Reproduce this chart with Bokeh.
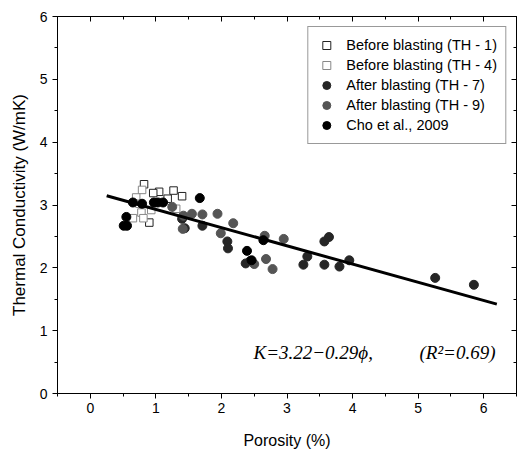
from bokeh.plotting import figure
from bokeh.models import (LinearAxis, Legend, LegendItem, Label, FixedTicker, Range1d,
                          CustomLabelingPolicy)
from bokeh.embed import file_html
from bokeh.resources import INLINE

# ---- data ----
th1_x = [1.05, 1.27, 1.40, 0.96, 0.82, 1.18, 0.90]
th1_y = [3.21, 3.23, 3.14, 3.19, 3.33, 3.10, 2.72]
th4_x = [0.79, 0.70, 1.31, 0.93, 0.78, 0.65, 0.81, 0.75]
th4_y = [3.24, 3.12, 2.94, 2.92, 2.88, 2.79, 2.79, 3.02]
th7_x = [1.40, 1.44, 1.71, 2.09, 2.10, 2.37, 2.44, 3.25, 3.31, 3.57, 3.57, 3.64, 3.80, 3.95, 5.26, 5.85]
th7_y = [2.78, 2.63, 2.67, 2.42, 2.31, 2.07, 2.11, 2.05, 2.18, 2.05, 2.42, 2.49, 2.02, 2.12, 1.84, 1.73]
th9_x = [1.25, 1.42, 1.41, 1.55, 1.71, 1.94, 1.99, 2.18, 2.50, 2.66, 2.68, 2.78, 2.95]
th9_y = [2.97, 2.83, 2.62, 2.86, 2.85, 2.86, 2.55, 2.71, 2.06, 2.51, 2.14, 1.98, 2.46]
cho_x = [0.51, 0.56, 0.55, 0.65, 0.79, 0.97, 1.03, 1.11, 1.67, 2.64, 2.39, 2.46]
cho_y = [2.67, 2.67, 2.81, 3.04, 3.02, 3.04, 3.04, 3.04, 3.11, 2.44, 2.27, 2.12]
fit_intercept = 3.22
fit_slope = -0.29
fit_x = [0.25, 6.2]
fit_y = [fit_intercept + fit_slope * v for v in fit_x]
x_ticks = [0, 1, 2, 3, 4, 5, 6]
y_ticks = [0, 1, 2, 3, 4, 5, 6]

p = figure(width=527, height=451, output_backend="svg", toolbar_location=None,
           x_range=Range1d(-0.5, 6.5), y_range=Range1d(0, 6),
           min_border_left=57, min_border_right=6, min_border_top=16, min_border_bottom=58)
p.xgrid.visible = False
p.ygrid.visible = False
p.outline_line_color = "black"
p.outline_line_width = 1
p.background_fill_color = "white"

def style_axis(ax, ticks):
    ax.ticker = FixedTicker(ticks=ticks, minor_ticks=[t + 0.5 for t in [-1] + ticks])
    ax.axis_line_color = "black"
    ax.major_tick_line_color = "black"
    ax.minor_tick_line_color = "black"
    ax.major_tick_out = 5
    ax.major_tick_in = 0
    ax.minor_tick_out = 3
    ax.minor_tick_in = 0
    ax.major_label_text_font = "Liberation Sans"
    ax.major_label_text_font_size = "14px"
    ax.major_label_text_color = "black"
    ax.axis_label_text_font = "Liberation Sans"
    ax.axis_label_text_font_style = "normal"
    ax.axis_label_text_color = "black"

style_axis(p.xaxis[0], x_ticks)
style_axis(p.yaxis[0], y_ticks)
p.xaxis[0].axis_label = "Porosity (%)"
p.xaxis[0].axis_label_text_font_size = "16px"
p.xaxis[0].major_label_standoff = 4
p.xaxis[0].axis_label_standoff = 16
p.yaxis[0].axis_label = "Thermal Conductivity (W/mK)"
p.yaxis[0].axis_label_text_font_size = "17px"
p.yaxis[0].major_label_standoff = 5
p.yaxis[0].axis_label_standoff = 8

no_labels = CustomLabelingPolicy(code="return new Set()")
top = LinearAxis(major_label_policy=no_labels)
style_axis(top, x_ticks)
top.major_tick_out = 0; top.major_tick_in = 5; top.minor_tick_out = 0; top.minor_tick_in = 3
top.major_label_standoff = 0
p.add_layout(top, "above")
right = LinearAxis(major_label_policy=CustomLabelingPolicy(code="return new Set()"))
style_axis(right, y_ticks)
right.major_tick_out = 0; right.major_tick_in = 5; right.minor_tick_out = 0; right.minor_tick_in = 3
right.major_label_standoff = 0
p.add_layout(right, "right")

r1 = p.scatter(th1_x, th1_y, marker="square", size=7.5, fill_color="white", line_color="#222222", line_width=1)
r4 = p.scatter(th4_x, th4_y, marker="square", size=7.5, fill_color="white", line_color="#888888", line_width=1)
r7 = p.scatter(th7_x, th7_y, marker="circle", size=9, fill_color="#262626", line_color="#262626")
r9 = p.scatter(th9_x, th9_y, marker="circle", size=9, fill_color="#555555", line_color="#555555")
rc = p.scatter(cho_x, cho_y, marker="circle", size=9, fill_color="black", line_color="black")
p.line(fit_x, fit_y, line_color="black", line_width=3)

legend = Legend(items=[
    LegendItem(label="Before blasting (TH - 1)", renderers=[r1]),
    LegendItem(label="Before blasting (TH - 4)", renderers=[r4]),
    LegendItem(label="After blasting (TH - 7)", renderers=[r7]),
    LegendItem(label="After blasting (TH - 9)", renderers=[r9]),
    LegendItem(label="Cho et al., 2009", renderers=[rc]),
], location="top_right")
legend.label_text_font = "Liberation Sans"
legend.label_text_font_size = "14.5px"
legend.label_text_color = "black"
legend.border_line_color = "#333333"
legend.border_line_width = 1
legend.margin = 10
legend.padding = 8
legend.spacing = 0
legend.label_height = 20
legend.glyph_height = 20
legend.glyph_width = 20
legend.label_standoff = 10
legend.background_fill_alpha = 1
p.add_layout(legend)

eq1 = Label(x=2.49, y=0.65, text="K=3.22−0.29ϕ,", text_font="Liberation Serif",
            text_font_style="italic", text_font_size="19px", text_baseline="middle", text_align="left",
            text_color="black")
eq2 = Label(x=6.18, y=0.65, text="(R²=0.69)", text_font="Liberation Serif",
            text_font_style="italic", text_font_size="19px", text_baseline="middle", text_align="right",
            text_color="black")
p.add_layout(eq1)
p.add_layout(eq2)

open("out.html", "w").write(file_html(p, INLINE))
